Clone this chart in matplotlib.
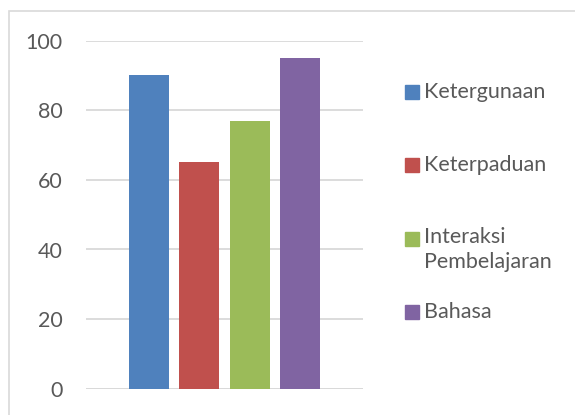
import matplotlib.pyplot as plt
from matplotlib.patches import Rectangle

plt.rcParams['font.family'] = ['Lato', 'DejaVu Sans']

# Datos del gráfico
kategori = ["Ketergunaan", "Keterpaduan", "Interaksi\nPembelajaran", "Bahasa"]
nilai = [90, 65, 77, 95]
warna = ["#4f81bd", "#c0504d", "#9bbb59", "#8064a2"]
yticks = [0, 20, 40, 60, 80, 100]

fig = plt.figure(figsize=(5.75, 4.15), dpi=100)
ax = fig.add_axes([86 / 575, 26.3 / 415, 277 / 575, 348 / 415])

posisi = list(range(len(nilai)))
ax.bar(posisi, nilai, width=0.8, color=warna, zorder=3)

ax.set_xlim(-1.26, len(nilai) - 1 + 1.26)
ax.set_ylim(0, 100)
ax.set_yticks(yticks)
ax.set_xticks([])
ax.tick_params(axis="y", length=0, pad=17, labelsize=15.5, labelcolor="#595959")
ax.grid(axis="y", color="#d9d9d9", linewidth=1.3, zorder=0)
for s in ax.spines.values():
    s.set_visible(False)
ax.axhline(0, color="#d9d9d9", linewidth=1.3, zorder=2)
ax.set_facecolor("none")

# Borde del área del gráfico
fig.patches.append(Rectangle((9 / 575, -0.1), 1.0, (415 - 11) / 415 + 0.1,
                             transform=fig.transFigure, fill=False,
                             edgecolor="#d9d9d9", linewidth=1.2))

# Leyenda manual
y_leyenda = [92, 165, 239, 312]
for label, c, y in zip(kategori, warna, y_leyenda):
    fig.patches.append(Rectangle((405 / 575, (415 - y - 7) / 415), 14 / 575, 14 / 415,
                                 transform=fig.transFigure, color=c))
    if "\n" in label:
        fig.text(424 / 575, (415 - y + 12) / 415, label, fontsize=15.5, color="#595959",
                 va="top", linespacing=1.3)
    else:
        fig.text(424 / 575, (415 - y) / 415, label, fontsize=15.5, color="#595959",
                 va="center")

fig.savefig("out.png", dpi=100)
